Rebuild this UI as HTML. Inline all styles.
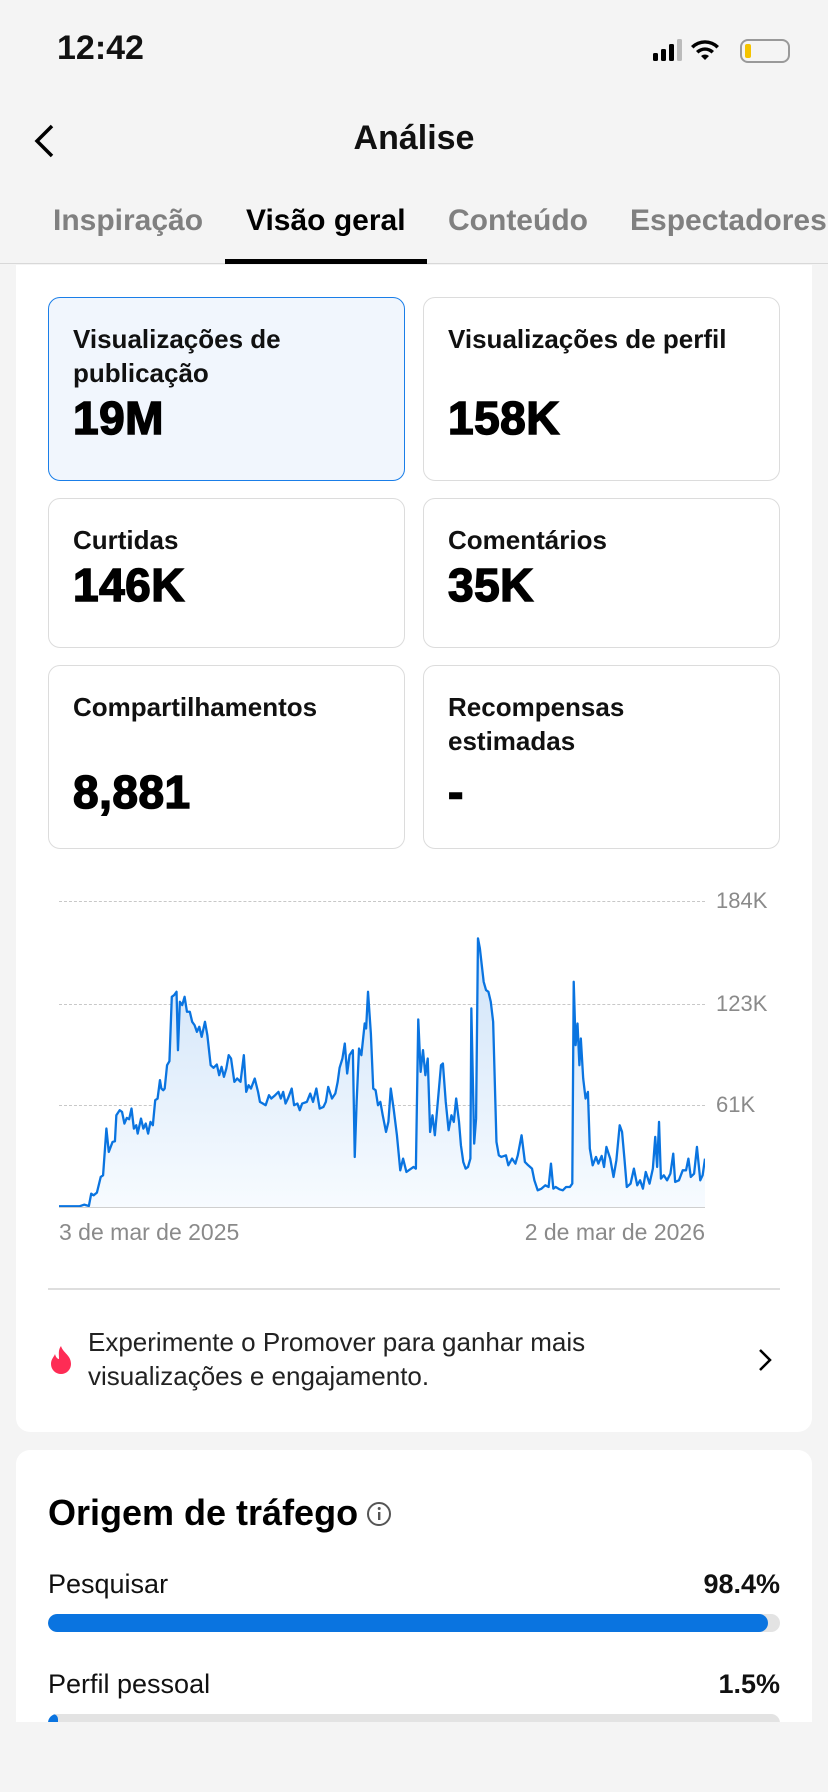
<!DOCTYPE html>
<html><head><meta charset="utf-8"><style>
*{margin:0;padding:0;box-sizing:border-box}
body{width:828px;height:1792px;background:#f4f4f4;font-family:"Liberation Sans",sans-serif;position:relative;overflow:hidden;color:#111}
.a{position:absolute}
.card{position:absolute;border:1px solid #dcdcdc;border-radius:12px;background:#fff;padding:24px 24px}
.card .t{font-size:26px;font-weight:bold;line-height:34px;color:#111;white-space:nowrap}
.card .v{font-size:46px;font-weight:900;letter-spacing:0.5px;-webkit-text-stroke:1.5px #000;color:#000;line-height:56px}
.tab{position:absolute;top:204px;font-size:30px;font-weight:bold;color:#808080;white-space:nowrap}
.gl{position:absolute;left:59px;width:646px;border-top:1.5px dashed #c8c8c8}
.yl{position:absolute;left:716px;font-size:22px;color:#8a8a8a}
.bar{position:absolute;left:48px;width:732px;height:18px;background:#e3e3e3;border-radius:9px;overflow:hidden}
.bar div{height:100%;background:#0a74e0;border-radius:9px}
</style></head><body>
<div class="a" style="left:57px;top:29px;font-size:34px;font-weight:bold">12:42</div>
<svg class="a" style="left:652px;top:38px" width="140" height="28" viewBox="0 0 140 28">
<rect x="1" y="15" width="5" height="8" rx="1.5" fill="#000"/><rect x="9" y="11" width="5" height="12" rx="1.5" fill="#000"/><rect x="17" y="6" width="5" height="17" rx="1.5" fill="#000"/><rect x="25" y="1" width="5" height="22" rx="1.5" fill="#bbb"/>
<path d="M53 22 l-4 -4 a6 6 0 0 1 8 0z M44 13 a13 13 0 0 1 18 0 l-2.5 2.5 a9 9 0 0 0 -13 0z M39 8 a20 20 0 0 1 28 0 l-2.5 2.5 a16 16 0 0 0 -23 0z" fill="#000"/>
<rect x="89" y="2" width="48" height="22" rx="7" fill="none" stroke="#999" stroke-width="2"/><rect x="93" y="6" width="6" height="14" rx="2" fill="#f4c300"/>
</svg>
<svg class="a" style="left:32px;top:124px" width="24" height="34" viewBox="0 0 24 34"><path d="M20 2 L5 17 L20 32" fill="none" stroke="#000" stroke-width="3.5"/></svg>
<div class="a" style="left:0;width:828px;top:119px;text-align:center;font-size:34px;font-weight:bold">Análise</div>
<div class="tab" style="left:53px">Inspiração</div>
<div class="tab" style="left:246px;color:#000">Visão geral</div>
<div class="tab" style="left:448px">Conteúdo</div>
<div class="tab" style="left:630px">Espectadores</div>
<div class="a" style="left:0;top:263px;width:828px;height:1px;background:#d8d8d8"></div>
<div class="a" style="left:225px;top:259px;width:202px;height:5px;background:#000"></div>
<div class="a" style="left:16px;top:265px;width:796px;height:1167px;background:#fff;border-radius:0 0 14px 14px"></div>
<div class="card" style="left:48px;top:297px;width:357px;height:184px;background:#f1f6fd;border-color:#1a7ee8"><div class="t">Visualizações de<br>publicação</div><div class="v">19M</div></div>
<div class="card" style="left:423px;top:297px;width:357px;height:184px"><div class="t">Visualizações de perfil</div><div class="v" style="margin-top:34px">158K</div></div>
<div class="card" style="left:48px;top:498px;width:357px;height:150px"><div class="t">Curtidas</div><div class="v">146K</div></div>
<div class="card" style="left:423px;top:498px;width:357px;height:150px"><div class="t">Comentários</div><div class="v">35K</div></div>
<div class="card" style="left:48px;top:665px;width:357px;height:184px"><div class="t">Compartilhamentos</div><div class="v" style="margin-top:40px">8,881</div></div>
<div class="card" style="left:423px;top:665px;width:357px;height:184px"><div class="t">Recompensas<br>estimadas</div><div class="v" style="margin-top:6px">-</div></div>
<div class="gl" style="top:901px"></div><div class="gl" style="top:1004px"></div><div class="gl" style="top:1105px"></div>
<div class="yl" style="top:888px">184K</div><div class="yl" style="top:991px">123K</div><div class="yl" style="top:1092px">61K</div>
<div class="a" style="left:59px;top:1206px;width:646px;height:2px;background:#cfcfcf"></div>
<svg class="a" style="left:59px;top:901px" width="646" height="306" viewBox="42 98 1363 917" preserveAspectRatio="none">
<defs><linearGradient id="g" x1="0" y1="0" x2="0" y2="1"><stop offset="0" stop-color="#cfe3f8"/><stop offset="1" stop-color="#f7fbff"/></linearGradient></defs>
<polygon fill="url(#g)" points="42,1015 42,1013 85,1013 95,1008 105,1012 110,975 115,980 122,972 130,925 135,920 142,780 147,850 155,820 160,818 163,740 170,725 175,730 180,765 185,748 190,752 195,720 200,780 205,770 208,795 215,750 220,780 225,765 230,795 235,760 240,770 245,695 250,690 255,635 258,660 262,665 265,660 270,590 275,578 280,385 285,380 290,370 293,545 297,400 302,410 307,385 312,430 318,430 323,460 328,470 333,490 338,475 343,505 350,460 355,500 362,590 368,598 375,588 380,620 385,595 390,625 395,600 400,560 405,570 412,640 418,630 425,640 432,560 437,670 442,650 447,660 455,630 462,670 466,700 472,705 478,710 485,680 490,690 498,680 505,670 510,690 515,670 520,705 525,690 533,660 538,710 545,705 550,725 555,705 565,700 572,675 578,700 585,660 592,720 600,715 605,700 610,655 618,690 625,675 630,640 634,598 640,570 645,525 650,615 655,560 662,545 666,865 670,700 675,540 680,560 687,465 690,480 694,370 700,495 705,660 710,665 715,710 720,700 725,740 732,790 737,760 742,660 748,720 755,800 762,905 768,870 775,910 790,895 795,900 800,453 805,610 810,545 815,620 820,570 825,790 830,740 835,800 840,720 848,590 852,585 858,700 864,785 870,740 875,760 880,690 886,760 890,830 895,880 900,900 905,895 910,870 912,420 918,825 922,750 926,210 930,240 938,340 943,365 948,370 953,400 958,460 965,820 970,860 975,865 985,860 990,890 998,870 1005,885 1010,860 1018,800 1025,880 1032,890 1040,900 1045,935 1052,965 1060,960 1068,950 1075,955 1080,885 1085,960 1090,955 1098,962 1105,965 1112,955 1120,955 1125,945 1128,340 1132,530 1136,465 1140,590 1143,510 1148,630 1153,690 1158,670 1162,840 1168,890 1175,865 1180,885 1187,862 1192,895 1197,835 1205,870 1212,925 1218,875 1225,770 1230,790 1235,870 1240,955 1248,945 1255,900 1262,950 1268,935 1274,960 1280,910 1288,945 1295,900 1300,805 1304,895 1308,760 1312,930 1318,920 1325,935 1332,915 1338,855 1342,940 1350,935 1358,905 1365,905 1370,870 1375,925 1382,915 1388,835 1395,935 1400,920 1405,870 1405,1015"/>
<polyline fill="none" stroke="#0a74e0" stroke-width="2.3" vector-effect="non-scaling-stroke" stroke-linejoin="round" points="42,1013 85,1013 95,1008 105,1012 110,975 115,980 122,972 130,925 135,920 142,780 147,850 155,820 160,818 163,740 170,725 175,730 180,765 185,748 190,752 195,720 200,780 205,770 208,795 215,750 220,780 225,765 230,795 235,760 240,770 245,695 250,690 255,635 258,660 262,665 265,660 270,590 275,578 280,385 285,380 290,370 293,545 297,400 302,410 307,385 312,430 318,430 323,460 328,470 333,490 338,475 343,505 350,460 355,500 362,590 368,598 375,588 380,620 385,595 390,625 395,600 400,560 405,570 412,640 418,630 425,640 432,560 437,670 442,650 447,660 455,630 462,670 466,700 472,705 478,710 485,680 490,690 498,680 505,670 510,690 515,670 520,705 525,690 533,660 538,710 545,705 550,725 555,705 565,700 572,675 578,700 585,660 592,720 600,715 605,700 610,655 618,690 625,675 630,640 634,598 640,570 645,525 650,615 655,560 662,545 666,865 670,700 675,540 680,560 687,465 690,480 694,370 700,495 705,660 710,665 715,710 720,700 725,740 732,790 737,760 742,660 748,720 755,800 762,905 768,870 775,910 790,895 795,900 800,453 805,610 810,545 815,620 820,570 825,790 830,740 835,800 840,720 848,590 852,585 858,700 864,785 870,740 875,760 880,690 886,760 890,830 895,880 900,900 905,895 910,870 912,420 918,825 922,750 926,210 930,240 938,340 943,365 948,370 953,400 958,460 965,820 970,860 975,865 985,860 990,890 998,870 1005,885 1010,860 1018,800 1025,880 1032,890 1040,900 1045,935 1052,965 1060,960 1068,950 1075,955 1080,885 1085,960 1090,955 1098,962 1105,965 1112,955 1120,955 1125,945 1128,340 1132,530 1136,465 1140,590 1143,510 1148,630 1153,690 1158,670 1162,840 1168,890 1175,865 1180,885 1187,862 1192,895 1197,835 1205,870 1212,925 1218,875 1225,770 1230,790 1235,870 1240,955 1248,945 1255,900 1262,950 1268,935 1274,960 1280,910 1288,945 1295,900 1300,805 1304,895 1308,760 1312,930 1318,920 1325,935 1332,915 1338,855 1342,940 1350,935 1358,905 1365,905 1370,870 1375,925 1382,915 1388,835 1395,935 1400,920 1405,870"/>
</svg>
<div class="a" style="left:59px;top:1219px;font-size:23px;color:#8a8a8a">3 de mar de 2025</div>
<div class="a" style="left:455px;width:250px;text-align:right;top:1219px;font-size:23px;color:#8a8a8a">2 de mar de 2026</div>
<div class="a" style="left:48px;top:1288px;width:732px;height:1.5px;background:#dedede"></div>
<svg class="a" style="left:47px;top:1345px" width="28" height="30" viewBox="0 0 28 30"><path d="M14 1 C16 8 24 10 24 19 A10 10 0 0 1 4 19 C4 14 7 12 8 9 C9 13 11 14 12 14 C12 9 11 5 14 1z" fill="#fe2c55"/></svg>
<div class="a" style="left:88px;top:1325px;font-size:26px;line-height:34px;color:#222">Experimente o Promover para ganhar mais<br>visualizações e engajamento.</div>
<svg class="a" style="left:757px;top:1348px" width="16" height="24" viewBox="0 0 16 24"><path d="M3 2 L13 12 L3 22" fill="none" stroke="#000" stroke-width="2.5"/></svg>
<div class="a" style="left:16px;top:1450px;width:796px;height:272px;background:#fff;border-radius:14px 14px 0 0"></div>
<div class="a" style="left:48px;top:1492px;font-size:36px;font-weight:bold;color:#000">Origem de tráfego</div>
<svg class="a" style="left:366px;top:1501px" width="26" height="26" viewBox="0 0 26 26"><circle cx="13" cy="13" r="11" fill="none" stroke="#555" stroke-width="2"/><rect x="12" y="11" width="2.4" height="8" fill="#555"/><circle cx="13.2" cy="7.5" r="1.5" fill="#555"/></svg>
<div class="a" style="left:48px;top:1569px;font-size:27px;color:#111">Pesquisar</div>
<div class="a" style="left:580px;width:200px;text-align:right;top:1569px;font-size:27px;font-weight:bold">98.4%</div>
<div class="bar" style="top:1614px"><div style="width:98.4%"></div></div>
<div class="a" style="left:48px;top:1669px;font-size:27px;color:#111">Perfil pessoal</div>
<div class="a" style="left:580px;width:200px;text-align:right;top:1669px;font-size:27px;font-weight:bold">1.5%</div>
<div class="bar" style="top:1714px"><div style="width:10px"></div></div>
<div class="a" style="left:0;top:1722px;width:828px;height:70px;background:#f4f4f4"></div>
</body></html>
